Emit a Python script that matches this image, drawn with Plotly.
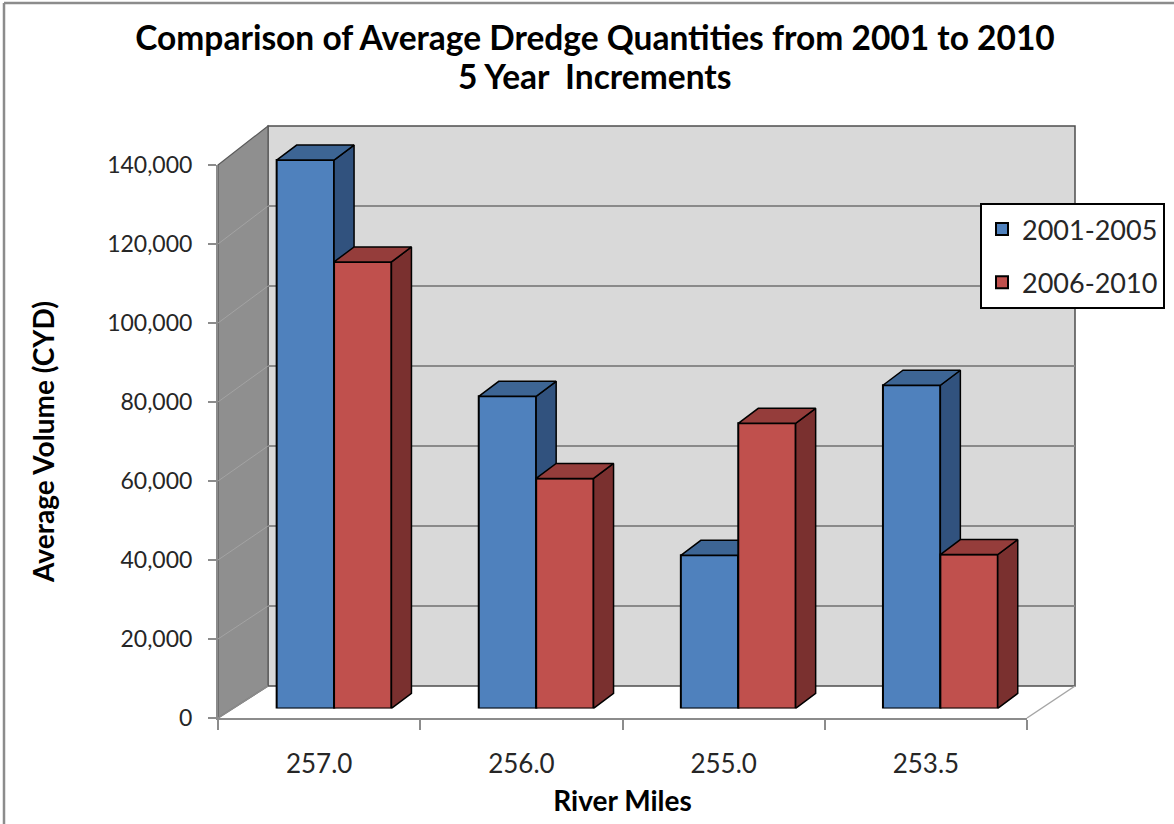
import plotly.graph_objects as go

# ---------------- data ----------------
categories = ["257.0", "256.0", "255.0", "253.5"]
series_names = ["2001-2005", "2006-2010"]
vals_2001_2005 = [138300, 78700, 38600, 81500]
vals_2006_2010 = [112600, 58000, 71900, 38800]
y_tick_vals = [0, 20000, 40000, 60000, 80000, 100000, 120000, 140000]

title_line1 = "Comparison of Average Dredge Quantities from 2001 to 2010"
title_line2 = "5 Year  Increments"
x_title = "River Miles"
y_title = "Average Volume (CYD)"

# ---------------- styling / geometry ----------------
W, H = 1174, 824
FONT = "Lato"
YMAX = 140000
YMAX_BAR = 160000   # extra headroom so the 3-D top faces are not clipped
BLUE = dict(front="#4f81bd", top="#3d6594", side="#31527e")
RED = dict(front="#c0504d", top="#953d3b", side="#7a302f")

FRONT_L, FRONT_R, FRONT_B, FRONT_T = 218, 1027, 718, 165
BACK_L, BACK_R, BACK_B, BACK_T = 268, 1075, 686, 126
BAR_L, BAR_R, BAR_B, BAR_T = 233, 1041.4, 708.4, 153.3
BAR_T_EXT = BAR_B - (BAR_B - BAR_T) * YMAX_BAR / YMAX
BW = 0.284      # bar width in category units
DX = 0.099      # depth offset (category units)
DY = 3780       # depth offset (value units)


def px(x):
    return x / W


def py(y):
    return 1 - y / H


fig = go.Figure()

# back-wall subplot (x, y) -> only gridlines
fig.add_trace(go.Scatter(x=[None], y=[None], xaxis="x", yaxis="y",
                         showlegend=False, hoverinfo="skip"))
# main visible axes (x2, y2)
fig.add_trace(go.Scatter(x=[None], y=[None], xaxis="x2", yaxis="y2",
                         showlegend=False, hoverinfo="skip"))


def add_series(vals, name, col, xa, ya, offset):
    xs = list(range(len(vals)))
    for i, v in zip(xs, vals):
        x0 = i + offset
        x1 = x0 + BW
        # side face
        fig.add_trace(go.Scatter(
            x=[x1, x1 + DX, x1 + DX, x1, x1], y=[0, DY, v + DY, v, 0],
            fill="toself", fillcolor=col["side"], mode="lines",
            line=dict(color="black", width=1.5), xaxis=xa, yaxis=ya,
            showlegend=False, hoverinfo="skip"))
        # top face
        fig.add_trace(go.Scatter(
            x=[x0, x1, x1 + DX, x0 + DX, x0], y=[v, v, v + DY, v + DY, v],
            fill="toself", fillcolor=col["top"], mode="lines",
            line=dict(color="black", width=1.5), xaxis=xa, yaxis=ya,
            showlegend=False, hoverinfo="skip"))
    fig.add_trace(go.Bar(
        x=xs, y=vals, name=name, width=BW, offset=offset,
        marker=dict(color=col["front"], line=dict(color="black", width=2)),
        xaxis=xa, yaxis=ya, legendgroup=name))


add_series(vals_2001_2005, series_names[0], BLUE, "x3", "y3", -BW)
add_series(vals_2006_2010, series_names[1], RED, "x4", "y4", 0.0)

# ---------------- decorative walls ----------------
shapes = []
# back wall
shapes.append(dict(type="rect", xref="paper", yref="paper",
                   x0=px(BACK_L), x1=px(BACK_R), y0=py(BACK_B), y1=py(BACK_T),
                   fillcolor="#d9d9d9", line=dict(color="#4d4d4d", width=1.5),
                   layer="below"))
# left side wall
shapes.append(dict(type="path", xref="paper", yref="paper",
                   path=f"M{px(FRONT_L)},{py(FRONT_T)} L{px(BACK_L)},{py(BACK_T)} "
                        f"L{px(BACK_L)},{py(BACK_B)} L{px(FRONT_L)},{py(FRONT_B)} Z",
                   fillcolor="#8f8f8f", line=dict(color="#5a5a5a", width=1.2),
                   layer="below"))
# diagonal gridlines on side wall
for v in y_tick_vals[1:-1]:
    yf = FRONT_B - v * (FRONT_B - FRONT_T) / YMAX
    yb = BACK_B - v * (BACK_B - BACK_T) / YMAX
    shapes.append(dict(type="line", xref="paper", yref="paper",
                       x0=px(FRONT_L), y0=py(yf), x1=px(BACK_L), y1=py(yb),
                       line=dict(color="#a3a3a3", width=1), layer="below"))
# floor edges
shapes.append(dict(type="line", xref="paper", yref="paper",
                   x0=px(FRONT_L), y0=py(FRONT_B), x1=px(BACK_L), y1=py(BACK_B),
                   line=dict(color="#8c8c8c", width=1.5), layer="below"))
shapes.append(dict(type="line", xref="paper", yref="paper",
                   x0=px(FRONT_R), y0=py(FRONT_B), x1=px(BACK_R), y1=py(BACK_B),
                   line=dict(color="#a6a6a6", width=1.5), layer="below"))
# outer chart border (left & top)
shapes.append(dict(type="line", xref="paper", yref="paper",
                   x0=px(4), y0=py(3), x1=px(4), y1=0,
                   line=dict(color="#8c8c8c", width=2.5)))
shapes.append(dict(type="line", xref="paper", yref="paper",
                   x0=px(4), y0=py(3), x1=1, y1=py(3),
                   line=dict(color="#8c8c8c", width=2.5)))

hidden = dict(visible=False, showgrid=False, zeroline=False, automargin=False)

fig.update_layout(
    template="none",
    width=W, height=H, autosize=False,
    margin=dict(l=0, r=0, t=0, b=0, pad=0),
    paper_bgcolor="white", plot_bgcolor="rgba(0,0,0,0)",
    font=dict(family=FONT, color="#262626"),
    title=dict(text=title_line1, x=595 / W, xanchor="center", xref="paper",
               y=py(38), yanchor="middle", yref="container", automargin=False,
               font=dict(family=FONT, size=33.5, color="black", weight="bold")),
    annotations=[dict(text=title_line2, x=px(595), y=py(76), xref="paper",
                      yref="paper", xanchor="center", yanchor="middle",
                      showarrow=False,
                      font=dict(family=FONT, size=33.5, color="black",
                                weight="bold"))],
    shapes=shapes,
    showlegend=True,
    legend=dict(x=px(980), y=py(203), xanchor="left", yanchor="top",
                bgcolor="white", bordercolor="black", borderwidth=2,
                font=dict(family=FONT, size=27, color="#262626"),
                tracegroupgap=15, traceorder="grouped"),
    # back wall
    xaxis=dict(domain=[px(BACK_L), px(BACK_R)], range=[0, 1], anchor="y",
               **hidden),
    yaxis=dict(domain=[py(BACK_B), py(BACK_T)], range=[0, YMAX], anchor="x",
               tickvals=y_tick_vals, showgrid=True, gridcolor="#8a8a8a",
               gridwidth=1.5, showticklabels=False, ticks="", zeroline=False,
               showline=False, automargin=False),
    # main visible axes
    xaxis2=dict(domain=[px(FRONT_L), px(FRONT_R)], range=[-0.5, 3.5],
                anchor="y2", tickvals=[0, 1, 2, 3], ticktext=categories,
                ticks="", showgrid=False, zeroline=False, automargin=False,
                showline=True, linecolor="#8c8c8c", linewidth=2,
                ticklabelstandoff=22,
                tickfont=dict(family=FONT, size=26, color="#262626"),
                minor=dict(ticks="outside", tickmode="array",
                           tickvals=[-0.5, 0.5, 1.5, 2.5, 3.5],
                           ticklen=10, tickwidth=2, tickcolor="#8c8c8c",
                           showgrid=False),
                title=dict(text=x_title, standoff=13,
                           font=dict(family=FONT, size=28, color="black",
                                     weight="bold"))),
    yaxis2=dict(domain=[py(FRONT_B), py(FRONT_T)], range=[0, YMAX],
                anchor="x2", tickvals=y_tick_vals, tickformat=",",
                ticks="outside", ticklen=8, tickwidth=2, tickcolor="#8c8c8c",
                showline=True, linecolor="#8c8c8c", linewidth=2,
                showgrid=False, zeroline=False, ticklabelstandoff=11,
                automargin=False,
                tickfont=dict(family=FONT, size=23, color="#262626"),
                title=dict(text=y_title, standoff=44,
                           font=dict(family=FONT, size=28, color="black",
                                     weight="bold"))),
    # bar planes
    xaxis3=dict(domain=[px(BAR_L), px(BAR_R)], range=[-0.5, 3.5], anchor="y3",
                **hidden),
    yaxis3=dict(domain=[py(BAR_B), py(BAR_T_EXT)], range=[0, YMAX_BAR],
                anchor="x3", **hidden),
    xaxis4=dict(domain=[px(BAR_L), px(BAR_R)], range=[-0.5, 3.5], anchor="y4",
                overlaying="x3", **hidden),
    yaxis4=dict(domain=[py(BAR_B), py(BAR_T_EXT)], range=[0, YMAX_BAR],
                anchor="x4", overlaying="y3", **hidden),
)

fig.write_html("out.html", config={"displayModeBar": False},
               post_script="document.body.style.margin='0px';")
